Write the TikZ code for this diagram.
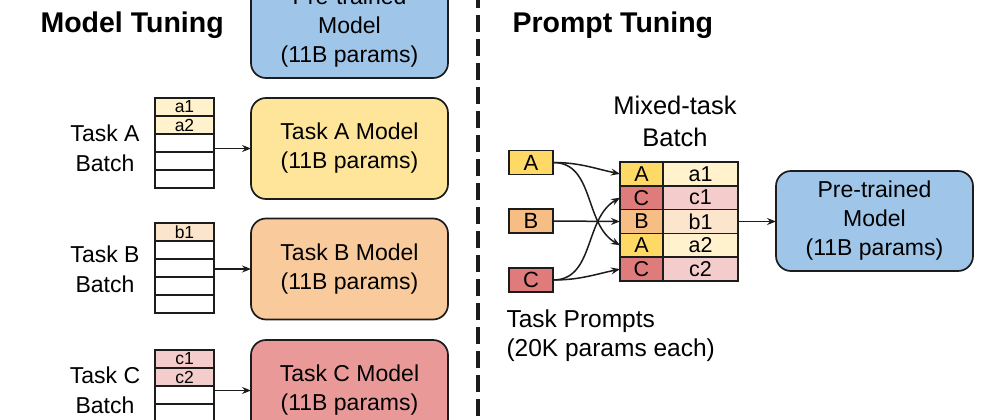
\documentclass[tikz,border=0pt]{standalone}
\usepackage{fontspec}
\setmainfont{Liberation Sans}
\usetikzlibrary{positioning,arrows.meta}
\definecolor{ink}{HTML}{1C1C1C}
\definecolor{blueBox}{HTML}{9FC5E8}
\definecolor{yelBox}{HTML}{FFE599}
\definecolor{yelDark}{HTML}{FFD966}
\definecolor{yelLight}{HTML}{FFF2CC}
\definecolor{oraBox}{HTML}{F9CB9C}
\definecolor{oraDark}{HTML}{F6BD85}
\definecolor{oraLight}{HTML}{FCE5CD}
\definecolor{redBox}{HTML}{EA9999}
\definecolor{redDark}{HTML}{E07B7B}
\definecolor{redLight}{HTML}{F4CCCC}
\begin{document}
\begin{tikzpicture}[x=1pt,y=-1pt,
   model/.style={draw=ink,line width=1.7pt,rounded corners=15pt,minimum width=197pt,minimum height=101pt,inner sep=0pt,outer sep=0pt,align=center,font=\fontsize{23}{29}\selectfont},
   cell/.style={draw=ink,line width=1.6pt,minimum width=59pt,minimum height=18pt,inner sep=0pt,outer sep=0pt,font=\fontsize{17.5}{17.5}\selectfont},
   prompt/.style={draw=ink,line width=1.6pt,minimum width=44pt,minimum height=24pt,inner sep=0pt,outer sep=0pt,font=\fontsize{22}{22}\selectfont},
   tag/.style={draw=ink,line width=1.6pt,minimum width=43pt,minimum height=23.8pt,inner sep=0pt,outer sep=0pt,font=\fontsize{21.5}{21.5}\selectfont},
   entry/.style={tag,minimum width=75pt},
   caption/.style={align=center,font=\fontsize{23}{30}\selectfont},
   heading/.style={anchor=base west,font=\fontsize{28.5}{30}\selectfont\bfseries},
   feed/.style={draw=ink,line width=1.3pt,-{Stealth[length=9pt,width=7pt,inset=3pt]}}]
   \useasboundingbox (0,0) rectangle (986,420);
   % Left
   \node[heading] (mt) at (37,33) {Model Tuning};
   \node[model,fill=blueBox] (pre) at (349.5,27.5) {Pre-trained\\Model\\(11B params)};
   \node[model,fill=yelBox] (mA) at (349.5,148.5) {Task A Model\\(11B params)};
   \node[model,fill=oraBox] (mB) at (349.5,269) {Task B Model\\(11B params)};
   \node[model,fill=redBox] (mC) at (349.5,390.5) {Task C Model\\(11B params)};
   \node[caption] (lA) at (105,148) {Task A\\Batch};
   \node[caption] (lB) at (105,269) {Task B\\Batch};
   \node[caption] (lC) at (105,390) {Task C\\Batch};
   \node[cell,fill=yelLight] (bA1) at (184.5,107) {a1};
   \node[cell,fill=yelLight,below=0pt of bA1] (bA2) {a2};
   \node[cell,below=0pt of bA2] (bA3) {};
   \node[cell,below=0pt of bA3] (bA4) {};
   \node[cell,below=0pt of bA4] (bA5) {};
   \node[cell,fill=oraLight] (bB1) at (184.5,232) {b1};
   \node[cell,below=0pt of bB1] (bB2) {};
   \node[cell,below=0pt of bB2] (bB3) {};
   \node[cell,below=0pt of bB3] (bB4) {};
   \node[cell,below=0pt of bB4] (bB5) {};
   \node[cell,fill=redLight] (bC1) at (184.5,359) {c1};
   \node[cell,fill=redLight,below=0pt of bC1] (bC2) {c2};
   \node[cell,below=0pt of bC2] (bC3) {};
   \node[cell,below=0pt of bC3] (bC4) {};
   \node[cell,below=0pt of bC4] (bC5) {};
   \draw[feed] (mA.west -| bA3.east) -- (mA.west);
   \draw[feed] (mB.west -| bB3.east) -- (mB.west);
   \draw[feed] (mC.west -| bC3.east) -- (mC.west);
   % Divider
   \draw[draw=ink,line width=3.5pt,dash pattern=on 17pt off 7pt] (478,-9) -- (478,430);
   % Right
   \node[heading] (pt) at (509,33) {Prompt Tuning};
   \node[caption,font=\fontsize{25.5}{32}\selectfont] (mix) at (675,121) {Mixed-task\\Batch};
   \node[prompt,fill=yelDark] (pA) at (531,162.5) {A};
   \node[prompt,fill=oraDark] (pB) at (531,221) {B};
   \node[prompt,fill=redDark] (pC) at (531,280) {C};
   \node[caption,anchor=west,align=left,font=\fontsize{24.5}{29}\selectfont] (tp) at (503,336) {Task Prompts\\(20K params each)};
   \node[tag,fill=yelDark] (t1) at (641.5,173.9) {A};
   \node[tag,fill=redDark,below=0pt of t1] (t2) {C};
   \node[tag,fill=oraDark,below=0pt of t2] (t3) {B};
   \node[tag,fill=yelDark,below=0pt of t3] (t4) {A};
   \node[tag,fill=redDark,below=0pt of t4] (t5) {C};
   \node[entry,fill=yelLight,right=0pt of t1] (e1) {a1};
   \node[entry,fill=redLight,right=0pt of t2] (e2) {c1};
   \node[entry,fill=oraLight,right=0pt of t3] (e3) {b1};
   \node[entry,fill=yelLight,right=0pt of t4] (e4) {a2};
   \node[entry,fill=redLight,right=0pt of t5] (e5) {c2};
   \node[model,fill=blueBox,minimum height=100pt] (preR) at (874.5,221) {Pre-trained\\Model\\(11B params)};
   \draw[feed,line width=1.5pt] (pA.east) to[out=0,in=168] (t1.west);
   \draw[feed,line width=1.5pt] (pA.east) to[out=0,in=150] (t4.west);
   \draw[feed,line width=1.5pt] (pB.east) -- (t3.west);
   \draw[feed,line width=1.5pt] (pC.east) to[out=0,in=-150] (t2.west);
   \draw[feed,line width=1.5pt] (pC.east) to[out=0,in=-168] (t5.west);
   \draw[feed] (e3.east) -- (e3.east -| preR.west);
\end{tikzpicture}
\end{document}
